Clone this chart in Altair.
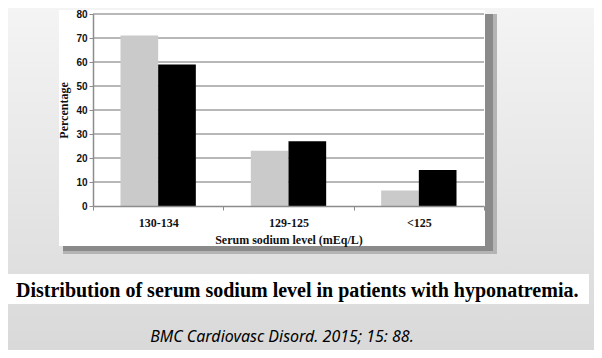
import altair as alt
import pandas as pd

categories = ["130-134", "129-125", "<125"]
series = ["Pattern", "Solid"]
values_pattern = [71, 23, 6.5]
values_solid = [59, 27, 15]
grid_values = [10, 20, 30, 40, 50, 60, 70, 80]
y_ticks = [0, 10, 20, 30, 40, 50, 60, 70, 80]
bar_colors = ["#cacaca", "#000000"]

caption = "Distribution of serum sodium level in patients with hyponatremia."
citation = "BMC Cardiovasc Disord. 2015; 15: 88."

rows = []
for c, a, b in zip(categories, values_pattern, values_solid):
    rows.append({"cat": c, "series": series[0], "value": a})
    rows.append({"cat": c, "series": series[1], "value": b})
df = pd.DataFrame(rows)
grid_df = pd.DataFrame({"value": grid_values})
one = pd.DataFrame({"k": [0]})

W, H = 391, 192

yscale = alt.Scale(domain=[0, 80])
yaxis = alt.Axis(title="Percentage", values=y_ticks,
                 grid=False, tickSize=4, tickColor="#8c8c8c",
                 domainColor="#8c8c8c", domainWidth=1.5,
                 labelFont="Liberation Sans", labelFontSize=10,
                 labelFontWeight="bold", labelColor="#111111",
                 labelPadding=2,
                 titleFont="Liberation Serif", titleFontSize=12,
                 titleFontWeight="bold", titleColor="#111111",
                 titleAngle=270, titleX=-30, titleY=96,
                 titleAlign="center", titleBaseline="middle", zindex=1)

bg = alt.Chart(one).mark_rect(
    clip=False,
    color=alt.Gradient(gradient="linear",
                       stops=[alt.GradientStop(color="#f4f4f4", offset=0),
                              alt.GradientStop(color="#d9d9d9", offset=1)],
                       x1=0, x2=0, y1=0, y2=1),
).encode(x=alt.value(-85), x2=alt.value(W + 110), y=alt.value(-6), y2=alt.value(H + 144))

shadow_outer = alt.Chart(one).mark_rect(clip=False, color="#b4b4b4").encode(
    x=alt.value(-30), x2=alt.value(404), y=alt.value(0), y2=alt.value(240))
shadow = alt.Chart(one).mark_rect(clip=False, color="#8a8a8a").encode(
    x=alt.value(-30), x2=alt.value(400), y=alt.value(0), y2=alt.value(237))
white_box = alt.Chart(one).mark_rect(clip=False, color="#ffffff").encode(
    x=alt.value(-34), x2=alt.value(392), y=alt.value(-4), y2=alt.value(232))

grid = alt.Chart(grid_df).mark_rule(color="#a0a0a0", strokeWidth=1.5).encode(
    y=alt.Y("value:Q", scale=yscale, axis=yaxis),
    x=alt.value(0), x2=alt.value(W))

bars = alt.Chart(df).mark_bar().encode(
    x=alt.X("cat:N", sort=categories,
            scale=alt.Scale(paddingInner=0, paddingOuter=0),
            axis=alt.Axis(title="Serum sodium level (mEq/L)", labelAngle=0,
                          tickBand="extent", tickSize=4, tickColor="#8c8c8c",
                          domainColor="#8c8c8c", domainWidth=1.5,
                          labelFont="Liberation Serif", labelFontSize=12,
                          labelFontWeight="bold", labelColor="#111111",
                          labelPadding=7,
                          titleFont="Liberation Serif", titleFontSize=12,
                          titleFontWeight="bold", titleColor="#111111",
                          titleY=37, titleBaseline="alphabetic", zindex=1)),
    xOffset=alt.XOffset("series:N", sort=series,
                        scale=alt.Scale(paddingInner=0, paddingOuter=0.73)),
    y=alt.Y("value:Q", scale=yscale, axis=yaxis),
    color=alt.Color("series:N", sort=series,
                    scale=alt.Scale(domain=series, range=bar_colors), legend=None),
)

cap_box = alt.Chart(one).mark_rect(clip=False, color="#ffffff").encode(
    x=alt.value(-85), x2=alt.value(496), y=alt.value(260), y2=alt.value(290))

cap_text = alt.Chart(one).mark_text(
    clip=False, text=caption, align="left", baseline="alphabetic",
    font="Liberation Serif", fontSize=20, fontWeight="bold", color="#000000",
).encode(x=alt.value(-77), y=alt.value(283))

cit_text = alt.Chart(one).mark_text(
    clip=False, text=citation, align="center", baseline="alphabetic",
    font="Noto Sans", fontSize=16, fontStyle="italic", color="#000000",
).encode(x=alt.value(189), y=alt.value(328))

chart = alt.layer(
    bg, shadow_outer, shadow, white_box, grid, bars, cap_box, cap_text, cit_text
).properties(
    width=W, height=H,
    autosize=alt.AutoSizeParams(type="none"),
    padding={"left": 85, "top": 6, "right": 110, "bottom": 144},
).configure_view(stroke=None).configure(background="#e6e6e6")

chart.save("out.html", embed_options={"renderer": "svg", "actions": False})
